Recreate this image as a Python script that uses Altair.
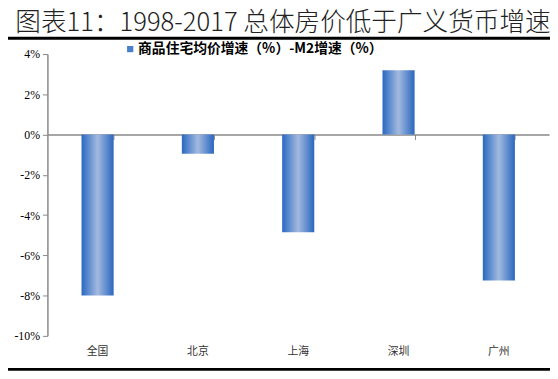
import altair as alt
import pandas as pd

cities = ["全国", "北京", "上海", "深圳", "广州"]
values = [-8.0, -0.95, -4.85, 3.2, -7.25]
y_ticks = [4, 2, 0, -2, -4, -6, -8, -10]
title_text = "图表11：1998-2017 总体房价低于广义货币增速"
legend_text = "商品住宅均价增速（%）-M2增速（%）"

df = pd.DataFrame({"city": cities, "value": values})

W, H = 509, 286
y0 = H * 4 / 14  # pixel of 0 line

x_scale = alt.Scale(domain=cities, paddingInner=0.68, paddingOuter=0.34)
y_scale = alt.Scale(domain=[-10, 4], nice=False, zero=False)

grad = alt.Gradient(
    gradient="linear",
    x1=0, x2=1, y1=0, y2=0,
    stops=[
        alt.GradientStop(offset=0, color="#2a68c2"),
        alt.GradientStop(offset=0.5, color="#a2badf"),
        alt.GradientStop(offset=1, color="#2a66bf"),
    ],
)

bars = alt.Chart(df).mark_bar(fill=grad).encode(
    x=alt.X("city:N", scale=x_scale, sort=cities,
            axis=alt.Axis(title=None, labels=False, domainColor="#888888",
                          domainWidth=1.5, tickColor="#888888", tickSize=5,
                          tickBand="extent", offset=-(H - y0), grid=False)),
    y=alt.Y("value:Q", scale=y_scale,
            axis=alt.Axis(title=None, values=y_ticks, labelExpr="datum.value + '%'",
                          labelFont="Liberation Serif", labelFontSize=12,
                          labelColor="#000000", domainColor="#888888",
                          domainWidth=1.5, tickColor="#888888", tickSize=5,
                          grid=False, labelPadding=3)),
)

labels = alt.Chart(df).mark_text(
    font="Noto Sans CJK SC", fontSize=11, color="#333333", baseline="middle"
).encode(
    x=alt.X("city:N", scale=x_scale, sort=cities),
    y=alt.value(H + 16),
    text="city:N",
)

legend_df = pd.DataFrame({"t": [legend_text]})
legend_sq = alt.Chart(legend_df).mark_square(
    size=40, color="#4a7fcb", opacity=1
).encode(x=alt.value(84), y=alt.value(-5))
legend_txt = alt.Chart(legend_df).mark_text(
    font="Noto Sans CJK SC", fontSize=14, fontWeight="bold", align="left",
    baseline="middle", color="#000000"
).encode(x=alt.value(92), y=alt.value(-5), text="t:N")

title_df = pd.DataFrame({"t": [title_text]})
title = alt.Chart(title_df).mark_text(
    font="Noto Sans CJK SC", fontSize=26, fontWeight=300, align="center",
    baseline="middle", color="#222222"
).encode(x=alt.value(239), y=alt.value(-31), text="t:N")

top_rule = alt.Chart(title_df).mark_rule(color="#000000", strokeWidth=3).encode(
    x=alt.value(-40), x2=alt.value(W + 1), y=alt.value(-16)
)
bottom_rule = alt.Chart(title_df).mark_rule(color="#000000", strokeWidth=3).encode(
    x=alt.value(-40), x2=alt.value(W + 1), y=alt.value(H + 34)
)

chart = alt.layer(bars, labels, legend_sq, legend_txt, title, top_rule, bottom_rule).properties(
    width=W, height=H,
    autosize=alt.AutoSizeParams(type="none"),
    padding={"left": 40, "top": 44, "right": 1, "bottom": 37},
).configure_view(stroke=None)

chart.save("out.html", embed_options={"renderer": "svg", "actions": False})
